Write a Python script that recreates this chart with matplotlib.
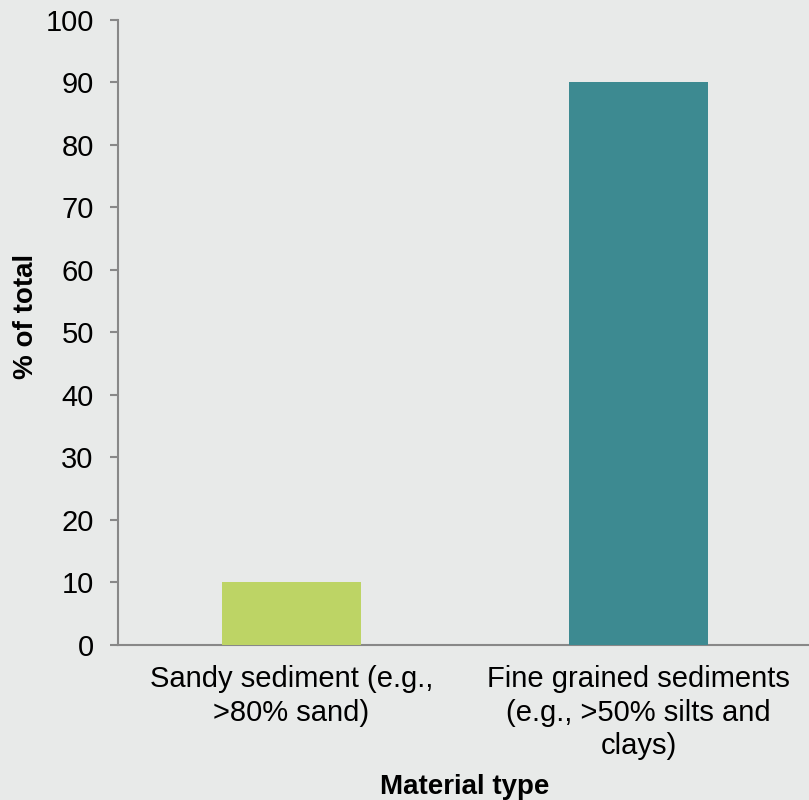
import matplotlib
matplotlib.use("Agg")
import matplotlib.pyplot as plt

categories = ["Sandy sediment (e.g.,\n>80% sand)",
              "Fine grained sediments\n(e.g., >50% silts and\nclays)"]
values = [10, 90]
colors = ["#BDD465", "#3D8A91"]
yticks = [0, 10, 20, 30, 40, 50, 60, 70, 80, 90, 100]

plt.rcParams["font.family"] = ["Liberation Sans", "DejaVu Sans"]

bg = "#E8EAE9"
fig = plt.figure(figsize=(8.09, 8.0), dpi=100, facecolor=bg)
ax = fig.add_axes([118 / 809, (800 - 644.5) / 800, 694 / 809, 624.5 / 800])
ax.set_facecolor(bg)

x = list(range(len(categories)))
ax.bar(x, values, width=0.4, color=colors, zorder=3)

ax.set_xlim(-0.5, 1.5)
ax.set_ylim(0, 100)
ax.set_yticks(yticks)
ax.set_xticks(x)
ax.set_xticklabels(categories, fontsize=21, linespacing=1.25)
ax.tick_params(axis="y", labelsize=21, length=6, width=1.5, color="#888888", pad=11.5)
ax.tick_params(axis="x", length=0, pad=15)

for side in ("top", "right"):
    ax.spines[side].set_visible(False)
for side in ("left", "bottom"):
    ax.spines[side].set_color("#888888")
    ax.spines[side].set_linewidth(1.5)

ax.set_ylabel("% of total", fontsize=20, fontweight="bold")
ax.yaxis.set_label_coords(-79 / 694, 0.526)
ax.set_xlabel("Material type", fontsize=20, fontweight="bold", labelpad=10)

fig.savefig("out.png", dpi=100, facecolor=bg)
